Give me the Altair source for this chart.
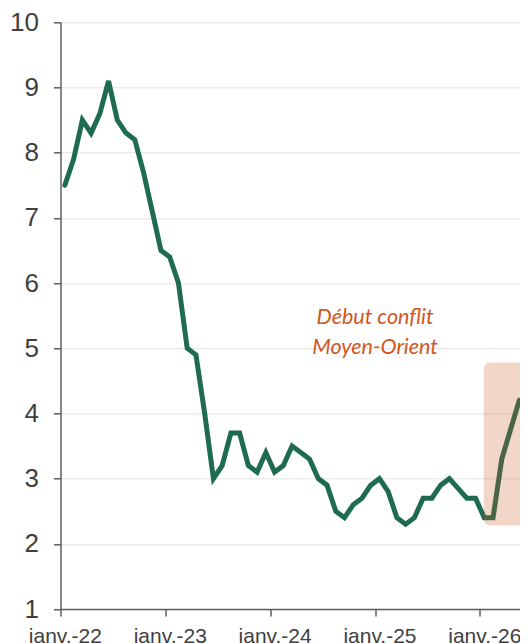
import json
import altair as alt
import pandas as pd

# ---- data ----
months = pd.date_range("2022-01-01", periods=53, freq="MS").strftime("%Y-%m").tolist()
inflation = [7.5, 7.9, 8.5, 8.3, 8.6, 9.1, 8.5, 8.3, 8.2, 7.7,
             7.1, 6.5, 6.4, 6.0, 5.0, 4.9, 4.0, 3.0, 3.2, 3.7,
             3.7, 3.2, 3.1, 3.4, 3.1, 3.2, 3.5, 3.4, 3.3, 3.0,
             2.9, 2.5, 2.4, 2.6, 2.7, 2.9, 3.0, 2.8, 2.4, 2.3,
             2.4, 2.7, 2.7, 2.9, 3.0, 2.85, 2.7, 2.7, 2.4, 2.4,
             3.3, 3.75, 4.2]
tick_labels = ["janv.-22", "janv.-23", "janv.-24", "janv.-25", "janv.-26"]
tick_positions = [-0.5, 11.5, 23.5, 35.5, 47.5]
y_ticks = list(range(1, 11))
note_lines = ["Début conflit", "Moyen-Orient"]
note_y = [5.47, 5.01]
note_x = [35.5, 35.5]
box_x, box_x2, box_y, box_y2 = [47.95], [54.0], [2.28], [4.78]

df = pd.DataFrame({"month": months, "idx": list(range(len(inflation))), "value": inflation})
notes = pd.DataFrame({"text": note_lines, "x": note_x, "y": note_y})
box = pd.DataFrame({"x": box_x, "x2": box_x2, "y": box_y, "y2": box_y2})

MONTH_PX = 8.738
W, H = 459.5, 586.7
GREEN = "#1E6B52"
ORANGE = "#CB5B23"
AXIS_GREY = "#5f5f5f"
LABEL_GREY = "#404040"

x_scale = alt.Scale(domain=[-0.5, -0.5 + W / MONTH_PX], nice=False, zero=False)
y_scale = alt.Scale(domain=[1, 10], nice=False, zero=False)
label_expr = f"{json.dumps(tick_labels)}[round((datum.value + 0.5) / 12)]"

x_axis = alt.Axis(values=tick_positions, labelExpr=label_expr, title=None, grid=False,
                  labelOffset=4.4, tickSize=7, labelPadding=9, labelFontSize=21,
                  labelFont="Liberation Sans", labelColor=LABEL_GREY,
                  domainColor=AXIS_GREY, tickColor=AXIS_GREY, domainWidth=1.5,
                  tickWidth=1.5, labelFlush=False, labelOverlap=False)
y_axis = alt.Axis(values=y_ticks, format="d", title=None, grid=True, gridColor="#EBEBEB",
                  gridWidth=1.5, tickSize=7, labelPadding=15, labelFontSize=26,
                  labelFont="Liberation Sans", labelColor=LABEL_GREY, domainColor=AXIS_GREY,
                  tickColor=AXIS_GREY, domainWidth=1.5, tickWidth=1.5, labelOverlap=False)

line = alt.Chart(df).mark_line(color=GREEN, strokeWidth=5, strokeCap="round").encode(
    x=alt.X("idx:Q", scale=x_scale, axis=x_axis),
    y=alt.Y("value:Q", scale=y_scale, axis=y_axis),
)

rect = alt.Chart(box).mark_rect(color=ORANGE, opacity=0.25, cornerRadius=6, clip=True).encode(
    x=alt.X("x:Q", scale=x_scale, title=None),
    x2="x2:Q",
    y=alt.Y("y:Q", scale=y_scale, title=None),
    y2="y2:Q",
)

text = alt.Chart(notes).mark_text(font="Lato", fontStyle="italic", fontSize=21.5, color="#D0571E",
                                  align="center", baseline="middle").encode(
    x=alt.X("x:Q", scale=x_scale, title=None),
    y=alt.Y("y:Q", scale=y_scale, title=None),
    text="text:N",
)

chart = alt.layer(line, rect, text).properties(
    width=W, height=H,
    autosize=alt.AutoSizeParams(type="none"),
    padding={"left": 52.5, "top": 14.3, "right": 0, "bottom": 34},
).configure_view(stroke=None)

chart.save("out.html", embed_options={"renderer": "svg", "actions": False})
